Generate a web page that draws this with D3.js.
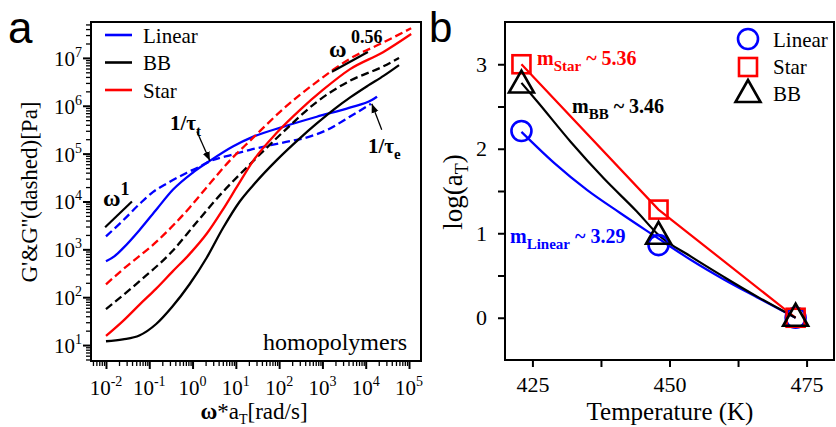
<!DOCTYPE html>
<html><head><meta charset="utf-8">
<script src="https://cdn.jsdelivr.net/npm/d3@7"></script>
<style>body{margin:0;background:#fff}svg{display:block}</style>
</head><body>
<svg id="c" width="836" height="427"></svg>
<script>
// ===== Panel a data: pairs [log10(omega*aT), log10(modulus)] =====
const linearStorage = [[-2,2.75],[-1.8,2.86],[-1.61,3.02],[-1.21,3.42],[-0.82,3.85],[-0.45,4.25],[0.0,4.6],[0.4,4.85],[0.93,5.15],[1.39,5.35],[2.09,5.56],[2.87,5.77],[3.63,5.96],[4.14,6.12],[4.26,6.19]];
const linearLoss    = [[-2,3.27],[-1.61,3.6],[-1.21,3.96],[-0.91,4.2],[-0.59,4.38],[-0.13,4.6],[0.17,4.73],[0.4,4.84],[0.93,4.98],[1.33,5.08],[2.09,5.23],[2.72,5.36],[3.12,5.5],[3.63,5.77],[4.12,6.04]];
const bbStorage     = [[-2,1.08],[-1.61,1.12],[-1.23,1.2],[-0.84,1.44],[-0.47,1.8],[-0.07,2.27],[0.33,2.83],[0.7,3.44],[1.09,4.0],[1.4,4.34],[1.95,4.87],[2.49,5.33],[2.87,5.63],[3.26,5.92],[3.65,6.18],[4.05,6.42],[4.42,6.63],[4.77,6.85]];
const bbLoss        = [[-2,1.75],[-1.23,2.33],[-0.47,2.96],[0.09,3.56],[0.7,4.2],[1.33,4.78],[2.09,5.45],[2.87,6.08],[3.63,6.52],[4.4,6.82],[4.77,7.0]];
const starStorage   = [[-2,1.19],[-1.61,1.5],[-1.23,1.84],[-0.84,2.18],[-0.47,2.53],[-0.07,2.9],[0.33,3.33],[0.7,3.83],[1.02,4.3],[1.4,4.85],[1.95,5.44],[2.49,5.92],[3.01,6.33],[3.63,6.76],[4.4,7.12],[5.05,7.5]];
const starLoss      = [[-2,2.27],[-1.61,2.58],[-0.82,3.17],[-0.06,3.88],[0.33,4.3],[0.93,4.92],[1.33,5.27],[2.09,5.93],[2.87,6.5],[3.63,6.98],[4.4,7.32],[5.05,7.62]];
const slopeGuide1    = [[-2.02,3.46],[-1.40,4.0]];
const slopeGuide056  = [[3.22,6.71],[4.05,7.125]];
const arrowTauT = [[0.10,5.46],[0.40,4.85]];
const arrowTauE = [[4.37,5.5],[4.14,6.04]];
const xTickExps = [-2,-1,0,1,2,3,4,5];
const yTickExps = [1,2,3,4,5,6,7];
const seriesNamesA = ["Linear","BB","Star"];

// ===== Panel b data =====
const temps = [423, 448, 473];
const linearLogAT = [2.21, 0.86, 0];
const starLogAT   = [3.0, 1.28, 0];
const bbLogAT     = [2.76, 0.97, 0];
const fitTempsLinear = [423,429,435,441,447,454,460,466,473];
const fitLinear      = [2.2,1.83,1.51,1.24,0.98,0.68,0.45,0.24,0.0];
const fitTempsBB = [423,426,432,438,444,448,454,460,466,473];
const fitBB      = [2.78,2.55,2.08,1.65,1.26,0.98,0.72,0.48,0.25,0.0];
const fitTempsStar = [423,448,473];
const fitStar      = [3.0,1.28,0.0];
const xTicksB = [425,437.5,450,462.5,475];
const yTicksB = [0,0.5,1,1.5,2,2.5,3];
const slopeLabels = {Star:"5.36", BB:"3.46", Linear:"3.29"};

const BLUE="#0000ff", RED="#ff0000", BLACK="#000000";
const SERIF='"Liberation Serif"', SANS='"Liberation Sans"';
const svg=d3.select("#c");

// ================= PANEL A =================
const A={l:91,t:22,r:421,b:361};
const xA=d3.scaleLog().domain([10**-2.346,10**5.277]).range([A.l,A.r]);
const yA=d3.scaleLog().domain([10**0.667,10**7.75]).range([A.b,A.t]);
const gA=svg.append("g");
const px=d=>xA(10**d[0]), py=d=>yA(10**d[1]);

function minors(dom){const out=[];for(let e=-4;e<=9;e++)for(let m=2;m<=9;m++){const v=m*10**e;if(v>dom[0]&&v<dom[1])out.push(v);}return out;}
gA.append("g").attr("transform",`translate(0,${A.b})`)
  .call(d3.axisBottom(xA).tickValues(minors(xA.domain())).tickSize(5).tickFormat(()=>""))
  .call(g=>g.select(".domain").remove()).selectAll("line").attr("stroke-width",1.3);
gA.append("g").attr("transform",`translate(0,${A.b})`)
  .call(d3.axisBottom(xA).tickValues(xTickExps.map(e=>10**e)).tickSize(8).tickFormat(()=>""))
  .call(g=>g.select(".domain").remove()).selectAll("line").attr("stroke-width",2);
gA.append("g").attr("transform",`translate(${A.l},0)`)
  .call(d3.axisLeft(yA).tickValues(minors(yA.domain())).tickSize(5).tickFormat(()=>""))
  .call(g=>g.select(".domain").remove()).selectAll("line").attr("stroke-width",1.3);
gA.append("g").attr("transform",`translate(${A.l},0)`)
  .call(d3.axisLeft(yA).tickValues(yTickExps.map(e=>10**e)).tickSize(8).tickFormat(()=>""))
  .call(g=>g.select(".domain").remove()).selectAll("line").attr("stroke-width",2);

xTickExps.forEach(e=>{
  const t=gA.append("text").attr("x",xA(10**e)).attr("y",395).attr("text-anchor","middle").attr("font-size",21);
  t.append("tspan").text("10");
  t.append("tspan").attr("dy",-9).attr("font-size",14).text(String(e));
});
yTickExps.forEach(e=>{
  const t=gA.append("text").attr("x",82).attr("y",yA(10**e)+8).attr("text-anchor","end").attr("font-size",21);
  t.append("tspan").text("10");
  t.append("tspan").attr("dy",-9).attr("font-size",14).text(String(e));
});

svg.append("clipPath").attr("id","clipA").append("rect").attr("x",A.l).attr("y",A.t).attr("width",A.r-A.l).attr("height",A.b-A.t);
const plotA=gA.append("g").attr("clip-path","url(#clipA)");
const lineA=d3.line().x(px).y(py).curve(d3.curveMonotoneX);
const curves=[
  [linearStorage,BLUE,null],[linearLoss,BLUE,"8,4"],
  [bbStorage,BLACK,null],[bbLoss,BLACK,"8,4"],
  [starStorage,RED,null],[starLoss,RED,"8,4"]
];
curves.forEach(([d,c,dash])=>{
  plotA.append("path").datum(d).attr("d",lineA).attr("fill","none").attr("stroke",c)
    .attr("stroke-width",2.3).attr("stroke-dasharray",dash);
});
[slopeGuide1,slopeGuide056].forEach(d=>{
  plotA.append("path").datum(d).attr("d",d3.line().x(px).y(py)).attr("stroke",BLACK).attr("stroke-width",2.2).attr("fill","none");
});
const defs=svg.append("defs");
defs.append("marker").attr("id","arr").attr("viewBox","0 0 10 10").attr("refX",10).attr("refY",5)
  .attr("markerWidth",9).attr("markerHeight",9).attr("markerUnits","userSpaceOnUse").attr("orient","auto")
  .append("path").attr("d","M0,1 L10,5 L0,9 Z").attr("fill",BLACK);
[arrowTauT,arrowTauE].forEach(d=>{
  gA.append("path").datum(d).attr("d",d3.line().x(px).y(py)).attr("stroke",BLACK).attr("stroke-width",1.3)
    .attr("fill","none").attr("marker-end","url(#arr)");
});
gA.append("rect").attr("x",A.l).attr("y",A.t).attr("width",A.r-A.l).attr("height",A.b-A.t)
  .attr("fill","none").attr("stroke",BLACK).attr("stroke-width",2);

const legColors={Linear:BLUE,BB:BLACK,Star:RED};
seriesNamesA.forEach((n,i)=>{
  const y=35+i*27.5;
  gA.append("line").attr("x1",105).attr("x2",132).attr("y1",y).attr("y2",y).attr("stroke",legColors[n]).attr("stroke-width",2.6);
  gA.append("text").attr("x",143).attr("y",y+7.5).attr("font-size",21).text(n);
});
function subText(g,x,y,parts,opts){
  const t=g.append("text").attr("x",x).attr("y",y)
    .attr("font-weight",opts.bold?"bold":"normal").attr("fill",opts.fill||BLACK).attr("font-size",opts.size);
  if(opts.anchor) t.attr("text-anchor",opts.anchor);
  let cur=0;
  parts.forEach(p=>{
    const s=t.append("tspan").text(p.t);
    const target=p.dy||0;
    if(target!==cur){s.attr("dy",target-cur);cur=target;}
    if(p.size) s.attr("font-size",p.size);
    if(p.weight) s.attr("font-weight",p.weight);
  });
  return t;
}
subText(gA,170,130,[{t:"1/τ"},{t:"t",dy:6,size:15}],{bold:true,size:21});
subText(gA,368,153,[{t:"1/τ"},{t:"e",dy:6,size:15}],{bold:true,size:21});
subText(gA,103,206,[{t:"ω"},{t:"1",dy:-11,size:18}],{bold:true,size:24});
subText(gA,329,57,[{t:"ω"},{t:" 0.56",dy:-14,size:18}],{bold:true,size:24});
gA.append("text").attr("x",407).attr("y",350).attr("text-anchor","end").attr("font-size",24).text("homopolymers");

gA.append("text").attr("transform","translate(37,192) rotate(-90)").attr("text-anchor","middle")
  .attr("font-size",23).text("G'&G''(dashed)[Pa]");
subText(gA,254,419,[{t:"ω",weight:"bold"},{t:"*a"},{t:"T",dy:5,size:14},{t:"[rad/s]",dy:0}],{size:23,anchor:"middle"});

// ================= PANEL B =================
const B={l:505,t:22,r:834,b:360};
const xB=d3.scaleLinear().domain([420,480]).range([B.l,B.r]);
const yB=d3.scaleLinear().domain([-0.5,3.5]).range([B.b,B.t]);
const gB=svg.append("g");
gB.append("g").attr("transform",`translate(0,${B.b})`)
  .call(d3.axisBottom(xB).tickValues(xTicksB).tickSize(7).tickPadding(9).tickFormat(d=>d%25===0?d:""))
  .call(g=>g.select(".domain").remove())
  .call(g=>g.selectAll("line").attr("stroke-width",2))
  .call(g=>g.selectAll("text").attr("font-size",22).attr("fill",BLACK));
gB.append("g").attr("transform",`translate(${B.l},0)`)
  .call(d3.axisLeft(yB).tickValues(yTicksB).tickSize(7).tickPadding(11).tickFormat(d=>Number.isInteger(d)?d:""))
  .call(g=>g.select(".domain").remove())
  .call(g=>g.selectAll("line").attr("stroke-width",2))
  .call(g=>g.selectAll("text").attr("font-size",22).attr("fill",BLACK));

const lineB=(curve)=>d3.line().x(d=>xB(d[0])).y(d=>yB(d[1])).curve(curve);
const zip=(a,b)=>a.map((v,i)=>[v,b[i]]);
gB.append("path").datum(zip(fitTempsLinear,fitLinear)).attr("d",lineB(d3.curveMonotoneX)).attr("fill","none").attr("stroke",BLUE).attr("stroke-width",2.2);
gB.append("path").datum(zip(fitTempsStar,fitStar)).attr("d",lineB(d3.curveLinear)).attr("fill","none").attr("stroke",RED).attr("stroke-width",2.2);
gB.append("path").datum(zip(fitTempsBB,fitBB)).attr("d",lineB(d3.curveMonotoneX)).attr("fill","none").attr("stroke",BLACK).attr("stroke-width",2.2);

const triPath="M0,-14L12.5,8L-12.5,8Z";
function circ(g,x,y){g.append("circle").attr("cx",x).attr("cy",y).attr("r",10).attr("fill","none").attr("stroke",BLUE).attr("stroke-width",2.6);}
function sq(g,x,y){g.append("rect").attr("x",x-9).attr("y",y-9).attr("width",18).attr("height",18).attr("fill","none").attr("stroke",RED).attr("stroke-width",2.6);}
function tri(g,x,y){g.append("path").attr("d",triPath).attr("transform",`translate(${x},${y})`).attr("fill","none").attr("stroke",BLACK).attr("stroke-width",2.6);}
temps.forEach((t,i)=>circ(gB,xB(t),yB(linearLogAT[i])));
temps.forEach((t,i)=>sq(gB,xB(t),yB(starLogAT[i])));
temps.forEach((t,i)=>tri(gB,xB(t),yB(bbLogAT[i])));

gB.append("rect").attr("x",B.l).attr("y",B.t).attr("width",B.r-B.l).attr("height",B.b-B.t)
  .attr("fill","none").attr("stroke",BLACK).attr("stroke-width",2);

circ(gB,748,39); gB.append("text").attr("x",773).attr("y",47).attr("font-size",21).text("Linear");
sq(gB,748,67); gB.append("text").attr("x",773).attr("y",74).attr("font-size",21).text("Star");
tri(gB,748,94); gB.append("text").attr("x",773).attr("y",101).attr("font-size",21).text("BB");

subText(gB,537,65,[{t:"m"},{t:"Star",dy:6,size:15},{t:" ~ "+slopeLabels.Star,dy:0}],{bold:true,size:20,fill:RED});
subText(gB,572,113,[{t:"m"},{t:"BB",dy:6,size:15},{t:" ~ "+slopeLabels.BB,dy:0}],{bold:true,size:20,fill:BLACK});
subText(gB,510,243,[{t:"m"},{t:"Linear",dy:6,size:15},{t:" ~ "+slopeLabels.Linear,dy:0}],{bold:true,size:20,fill:BLUE});

subText(gB,670,420,[{t:"Temperature (K)"}],{size:25,anchor:"middle"});
const yl=gB.append("text").attr("transform","translate(462,192) rotate(-90)").attr("text-anchor","middle").attr("font-size",27);
yl.append("tspan").text("log(a");
yl.append("tspan").attr("dy",6).attr("font-size",18).text("T");
yl.append("tspan").attr("dy",-6).text(")");

// apply serif font to every text via inline style
svg.selectAll("text").style("font-family",SERIF);
svg.append("text").attr("x",8).attr("y",43).attr("font-size",44).style("font-family",SANS).text("a");
svg.append("text").attr("x",429).attr("y",42).attr("font-size",42).style("font-family",SANS).text("b");
</script>
</body></html>
